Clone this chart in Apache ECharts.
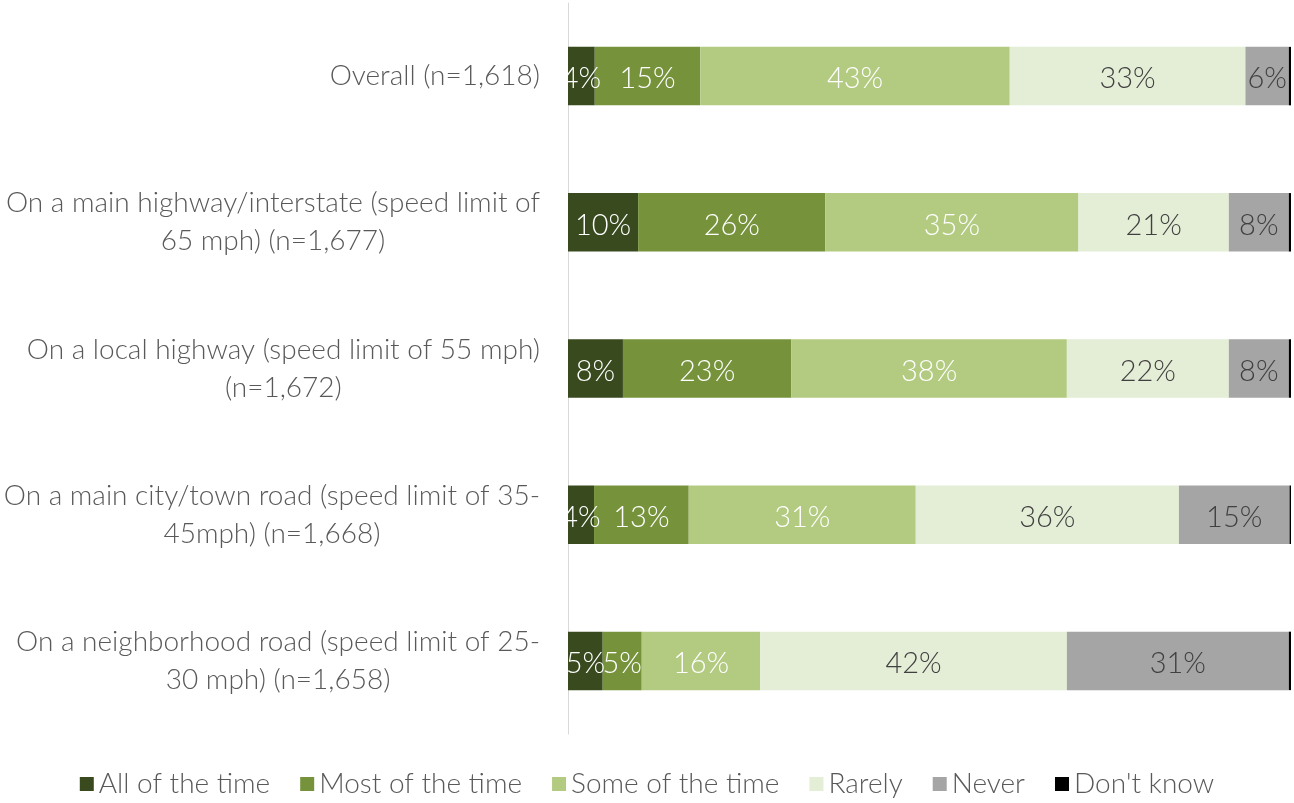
<!DOCTYPE html>
<html>
<head>
<meta charset="utf-8">
<script src="https://cdn.jsdelivr.net/npm/echarts@6/dist/echarts.min.js"></script>
<style>
  html, body { margin: 0; padding: 0; background: #fff; }
  #chart { width: 1294px; height: 803px; }
</style>
</head>
<body>
<div id="chart"></div>
<script>
// rows, top to bottom
const categories = [
  'Overall (n=1,618)',
  'On a main highway/interstate (speed limit of\n65 mph) (n=1,677)',
  'On a local highway (speed limit of 55 mph)\n(n=1,672)',
  'On a main city/town road (speed limit of 35-\n45mph) (n=1,668)',
  'On a neighborhood road (speed limit of 25-\n30 mph) (n=1,658)'
]
const seriesNames = ['All of the time', 'Most of the time', 'Some of the time', 'Rarely', 'Never', "Don't know"]
const allTime = [3.7, 9.7, 7.6, 3.6, 4.8]
const mostTime = [14.6, 25.9, 23.3, 13.1, 5.4]
const someTime = [42.8, 35.0, 38.1, 31.4, 16.4]
const rarely = [32.6, 20.8, 22.4, 36.4, 42.4]
const never = [6.0, 8.3, 8.3, 15.3, 30.7]
const dontKnow = [0.3, 0.3, 0.3, 0.2, 0.3]

const colors = ['#384a1e', '#76933c', '#b3cb80', '#e4edd6', '#a5a5a5', '#000000']
const labelColors = ['#ffffff', '#ffffff', '#ffffff', '#404040', '#404040', '#404040']
const values = [allTime, mostTime, someTime, rarely, never, dontKnow]
const font = 'Lato, "Open Sans", sans-serif'

const chart = echarts.init(document.getElementById('chart'))
chart.setOption({
  animation: false,
  color: colors,
  grid: { left: 568, right: 3, top: 3, bottom: 69, containLabel: false },
  legend: {
    bottom: 0,
    left: 'center',
    itemWidth: 14,
    itemHeight: 14,
    itemGap: 30,
    icon: 'rect',
    textStyle: { fontFamily: font, fontSize: 28, fontWeight: 300, color: '#595959' },
    data: seriesNames
  },
  xAxis: { type: 'value', min: 0, max: 100, show: false },
  yAxis: {
    type: 'category',
    inverse: true,
    data: categories,
    axisLine: { show: true, lineStyle: { color: '#d9d9d9', width: 1 } },
    axisTick: { show: false },
    axisLabel: {
      margin: 28,
      align: 'right',
      formatter: (v) => v.split('\n').map((s) => '{c|' + s + '}').join('\n'),
      rich: {
        c: { align: 'center', fontFamily: font, fontSize: 28, fontWeight: 300, color: '#595959', lineHeight: 38 }
      }
    }
  },
  series: seriesNames.map((name, i) => ({
    name,
    type: 'bar',
    stack: 'total',
    barWidth: '40%',
    data: values[i],
    label: {
      show: i < 5,
      position: 'inside',
      offset: [0, 3],
      color: labelColors[i],
      fontFamily: font,
      fontSize: 29,
      fontWeight: 300,
      formatter: (p) => Math.round(p.value) + '%'
    }
  }))
})
</script>
</body>
</html>
